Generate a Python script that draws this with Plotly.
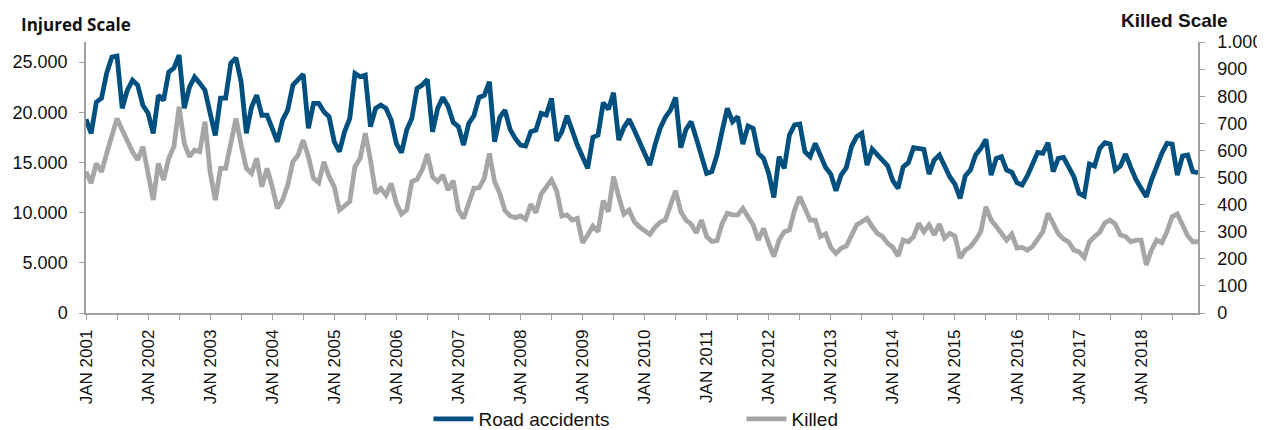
import plotly.graph_objects as go

# ---------------- data ----------------
years = list(range(2001, 2019))
month_abbr = ["JAN", "FEB", "MAR", "APR", "MAY", "JUN",
              "JUL", "AUG", "SEP", "OCT", "NOV", "DEC"]
months = [f"{m} {y}" for y in years for m in month_abbr]

road_accidents = [
    # 2001
    19300, 17900, 21000, 21400, 23900, 25500, 25600, 20400, 22200, 23200, 22700, 20700,
    # 2002
    19900, 17900, 21700, 21200, 24000, 24400, 25700, 20400, 22500, 23500, 22900, 22200,
    # 2003
    19900, 17700, 21400, 21400, 24900, 25400, 23000, 17900, 20500, 21700, 19700, 19700,
    # 2004
    18400, 17060, 19220, 20220, 22700, 23270, 23800, 18400, 20890, 20890, 20050, 19550,
    # 2005
    17060, 16070, 18060, 19390, 23870, 23540, 23700, 18560, 20390, 20720, 20390, 19220,
    # 2006
    16900, 15970, 18230, 19390, 22380, 22700, 23270, 18060, 20390, 21480, 20600, 19000,
    # 2007
    18560, 16730, 18890, 19650, 21480, 21680, 23040, 17060, 19490, 20220, 18290, 17400,
    # 2008
    16730, 16630, 18060, 18230, 19890, 19720, 21380, 17160, 18060, 19650, 18060, 16730,
    # 2009
    15570, 14410, 17500, 17730, 20950, 20290, 21940, 17230, 18490, 19290, 18230, 17100,
    # 2010
    15970, 14740, 16730, 18390, 19490, 20220, 21480, 16470, 18290, 19060, 17400, 15740,
    # 2011
    13910, 14080, 15740, 18160, 20390, 19060, 19560, 16830, 18630, 18390, 15900, 15400,
    # 2012
    13910, 11520, 15570, 14410, 17730, 18730, 18820, 16070, 15570, 16900, 15570, 14500,
    # 2013
    13840, 12180, 13740, 14480, 16570, 17560, 17900, 14740, 16330, 15740, 15240, 14670,
    # 2014
    13180, 12420, 14570, 14970, 16470, 16400, 16300, 13840, 15240, 15740, 14570, 13580,
    # 2015
    12850, 11420, 13650, 14240, 15740, 16400, 17300, 13740, 15410, 15570, 14240, 14030,
    # 2016
    12980, 12750, 13650, 14810, 16000, 15900, 16970, 14080, 15410, 15500, 14510, 13580,
    # 2017
    11920, 11650, 14840, 14640, 16400, 16970, 16830, 14240, 14640, 15840, 14510, 13310,
    # 2018
    12420, 11590, 13250, 14640, 15900, 16900, 16830, 13740, 15640, 15740, 14080, 13980,
]

killed = [
    # 2001
    521, 479, 552, 521, 589, 651, 718, 675, 632, 595, 565, 614,
    # 2002
    515, 417, 552, 491, 571, 614, 761, 626, 577, 601, 595, 706,
    # 2003
    521, 417, 534, 534, 626, 718, 620, 534, 515, 571, 466, 534,
    # 2004
    466, 386, 417, 472, 558, 583, 638, 577, 497, 481, 558, 503,
    # 2005
    466, 380, 395, 411, 540, 571, 663, 565, 442, 460, 435, 478,
    # 2006
    405, 365, 380, 485, 493, 528, 587, 503, 485, 509, 454, 488,
    # 2007
    380, 349, 405, 460, 462, 497, 589, 485, 442, 378, 358, 352,
    # 2008
    358, 346, 401, 370, 439, 464, 491, 451, 358, 362, 343, 349,
    # 2009
    259, 288, 321, 300, 415, 374, 503, 429, 365, 380, 337, 318,
    # 2010
    303, 290, 316, 335, 343, 399, 451, 374, 343, 328, 296, 343,
    # 2011
    282, 264, 267, 331, 368, 362, 362, 386, 353, 325, 269, 312,
    # 2012
    257, 208, 269, 300, 306, 380, 429, 386, 343, 343, 282, 292,
    # 2013
    242, 220, 239, 247, 290, 325, 337, 349, 319, 294, 282, 257,
    # 2014
    242, 210, 269, 263, 282, 331, 300, 325, 288, 328, 276, 294,
    # 2015
    284, 202, 232, 245, 269, 300, 392, 343, 319, 294, 269, 291,
    # 2016
    240, 242, 232, 245, 276, 300, 368, 328, 292, 273, 262, 232,
    # 2017
    226, 205, 263, 282, 298, 333, 343, 328, 288, 282, 263, 269,
    # 2018
    269, 177, 232, 269, 259, 300, 355, 365, 322, 285, 263, 263,
]

series_names = ["Road accidents", "Killed"]
left_ticks = [0, 5000, 10000, 15000, 20000, 25000]
right_ticks = list(range(0, 1001, 100))
x_tick_vals = months[::6]
x_tick_text = [m if m.startswith("JAN") else "" for m in x_tick_vals]

# ---------------- style ----------------
BLUE = "#00507F"
GREY = "#A6A6A6"
AXIS = "#A0A0A0"
FONT = "Liberation Sans, Arial, sans-serif"

fig = go.Figure()
fig.add_trace(go.Scatter(x=months, y=road_accidents, name=series_names[0],
                         mode="lines", line=dict(color=BLUE, width=4.8),
                         yaxis="y"))
fig.add_trace(go.Scatter(x=months, y=killed, name=series_names[1],
                         mode="lines", line=dict(color=GREY, width=4.8),
                         yaxis="y2"))

# the page has an 8px body margin, so the figure is 8px smaller than the window
fig.update_layout(
    width=1257, height=422,
    margin=dict(l=78, r=67, t=34, b=117, autoexpand=False),
    paper_bgcolor="white", plot_bgcolor="white",
    separators=",.",
    font=dict(family=FONT, size=18, color="#111111"),
    showlegend=True,
    legend=dict(orientation="h", x=0.308, xanchor="left", y=-0.391, yanchor="middle",
                font=dict(size=19, family=FONT), entrywidth=258, entrywidthmode="pixels",
                itemwidth=40, bgcolor="rgba(0,0,0,0)"),
    xaxis=dict(type="category", range=[0, len(months) - 1],
               tickmode="array", tickvals=x_tick_vals, ticktext=x_tick_text,
               tickangle=-90, ticks="outside", ticklen=5, tickcolor=AXIS, tickwidth=1,
               showline=True, linecolor=AXIS, linewidth=1.5, showgrid=False,
               zeroline=False, tickfont=dict(size=17, family=FONT),
               ticklabelstandoff=3, automargin=False),
    yaxis=dict(range=[0, 27000], tickmode="array", tickvals=left_ticks,
               tickformat=",d", ticks="outside", ticklen=5, tickcolor=AXIS,
               showline=True, linecolor=AXIS, linewidth=1.5, showgrid=False,
               zeroline=False, tickfont=dict(size=18, family=FONT),
               ticklabelstandoff=8, automargin=False),
    yaxis2=dict(range=[0, 1000], overlaying="y", side="right", tickmode="array",
                tickvals=right_ticks, tickformat=",d", ticks="outside", ticklen=5,
                tickcolor=AXIS, showline=True, linecolor=AXIS, linewidth=1.5,
                showgrid=False, zeroline=False, tickfont=dict(size=18, family=FONT),
                ticklabelstandoff=9, automargin=False),
    annotations=[
        dict(text="<b>Injured Scale</b>", xref="paper", yref="paper",
             x=-0.0603, y=1.066, xanchor="left", yanchor="middle", showarrow=False,
             font=dict(family="Open Sans, sans-serif", size=17, color="#111111")),
        dict(text="<b>Killed Scale</b>", xref="paper", yref="paper",
             x=1.0288, y=1.081, xanchor="right", yanchor="middle", showarrow=False,
             font=dict(family=FONT, size=19, color="#111111")),
    ],
)

fig.write_html("out.html")
